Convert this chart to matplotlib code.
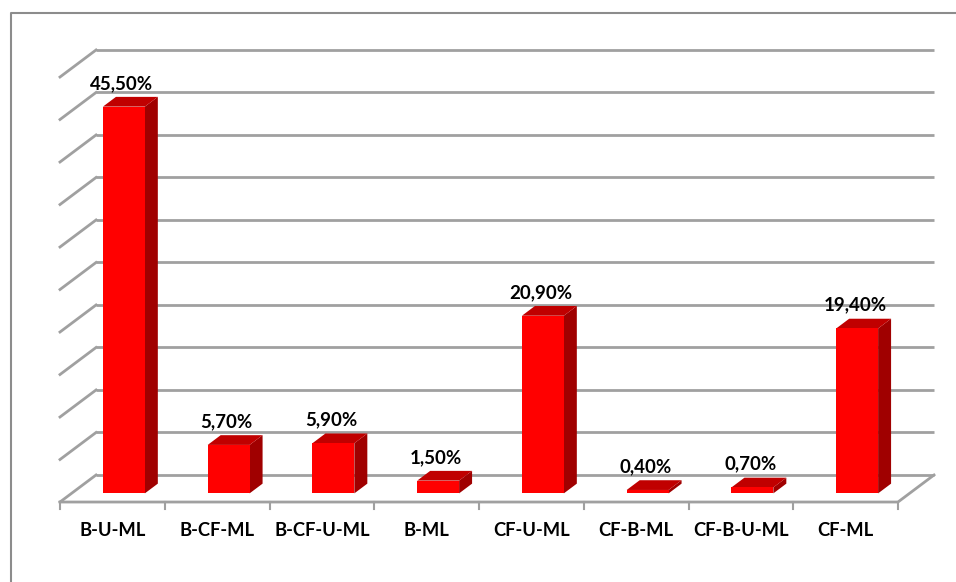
import matplotlib.pyplot as plt
from matplotlib.patches import Polygon

categories = ['B-U-ML', 'B-CF-ML', 'B-CF-U-ML', 'B-ML', 'CF-U-ML', 'CF-B-ML', 'CF-B-U-ML', 'CF-ML']
values = [45.5, 5.7, 5.9, 1.5, 20.9, 0.4, 0.7, 19.4]
labels = ['45,50%', '5,70%', '5,90%', '1,50%', '20,90%', '0,40%', '0,70%', '19,40%']
grid_vals = list(range(0, 55, 5))

# fake 3d: depth shift (in data units) for going from front (d=0) to back wall (d=1)
DX = 0.344
DY = 3.18
def proj(x, v, d):
    return (x + d * DX, v + d * DY)

fig = plt.figure(figsize=(9.56, 5.82), dpi=100)
ax = fig.add_axes([0, 0, 1, 1])
ax.set_xlim(-1.0728, 8.0537)
ax.set_ylim(-9.41, 59.06)
ax.axis('off')

gc = '#a0a0a0'
n = len(categories)
xl, xr = -0.5, n - 0.5

# back wall gridlines + left wall diagonals
for g in grid_vals:
    p0 = proj(xl, g, 1); p1 = proj(xr, g, 1)
    ax.plot([p0[0], p1[0]], [p0[1], p1[1]], color=gc, lw=2, solid_capstyle='butt', zorder=1)
    q0 = proj(xl, g, 0)
    ax.plot([q0[0], p0[0]], [q0[1], p0[1]], color=gc, lw=2, zorder=1)

# floor front edge and right edge
f0 = proj(xl, 0, 0); f1 = proj(xr, 0, 0); f2 = proj(xr, 0, 1)
ax.plot([f0[0], f1[0], f2[0]], [f0[1], f1[1], f2[1]], color=gc, lw=2, zorder=1)
for i in range(n + 1):
    ax.plot([xl + i, xl + i], [0, -0.85], color=gc, lw=1.5, zorder=1)

# bars
w = 0.2
d0, d1 = 0.32, 0.68
for i, v in enumerate(values):
    x0, x1 = i - w, i + w
    front = [proj(x0, 0, d0), proj(x1, 0, d0), proj(x1, v, d0), proj(x0, v, d0)]
    top = [proj(x0, v, d0), proj(x1, v, d0), proj(x1, v, d1), proj(x0, v, d1)]
    side = [proj(x1, 0, d0), proj(x1, v, d0), proj(x1, v, d1), proj(x1, 0, d1)]
    ax.add_patch(Polygon(side, closed=True, facecolor='#a00000', edgecolor='none', zorder=3))
    ax.add_patch(Polygon(top, closed=True, facecolor='#c00000', edgecolor='none', zorder=3))
    ax.add_patch(Polygon(front, closed=True, facecolor='#ff0000', edgecolor='none', zorder=4))
    lx, ly = proj(i, v, d0)
    ax.text(lx - 0.02, v + d1 * DY + 0.6, labels[i], ha='center', va='bottom',
            fontsize=13.5, fontweight='bold', family='Lato', zorder=5)

for i, c in enumerate(categories):
    ax.text(i, -3.3, c, ha='center', va='center', fontsize=13.2, fontweight='bold',
            family='Lato')

# chart border (top and left visible)
ax.plot([11/956, 11/956, 1], [0, 1 - 13/582, 1 - 13/582], color='#8c8c8c', lw=1.5,
        transform=ax.transAxes, clip_on=False)

fig.savefig('out.png', dpi=100)
